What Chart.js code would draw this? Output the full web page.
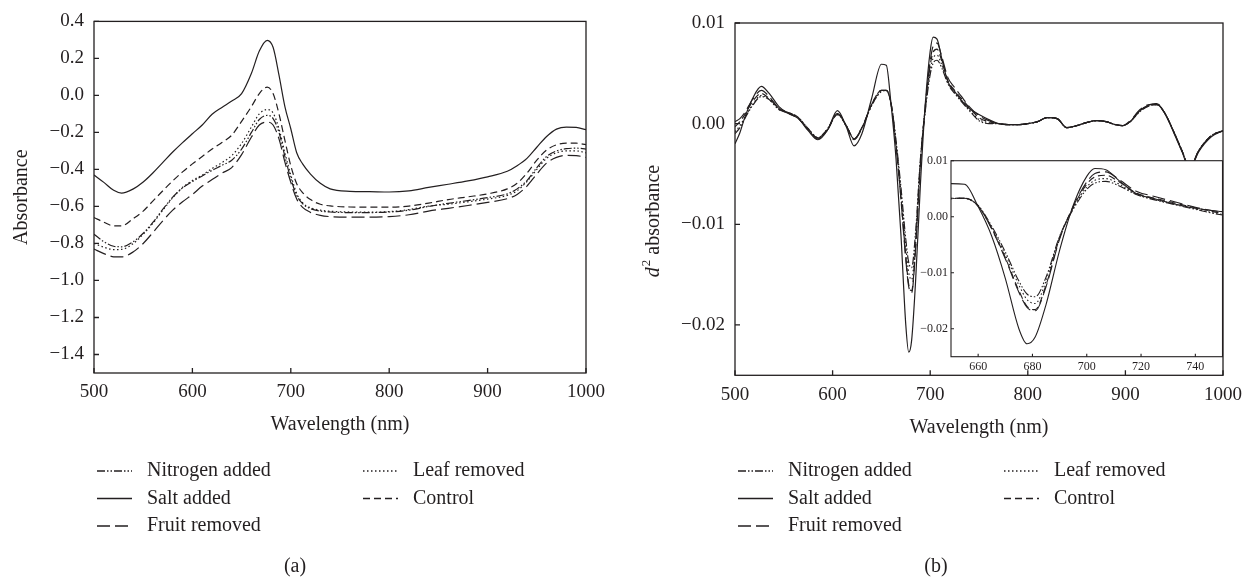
<!DOCTYPE html>
<html>
<head>
<meta charset="utf-8">
<script src="https://cdn.jsdelivr.net/npm/chart.js@4.4.1/dist/chart.umd.min.js"></script>
<style>
  body { margin: 0; background: #fff; }
  #wrap { position: relative; width: 1250px; height: 577px; background: #fff; }
  canvas { position: absolute; }
</style>
</head>
<body>
<div id="wrap">
  <canvas id="panelA" width="620" height="577" style="left:0;top:0"></canvas>
  <canvas id="panelB" width="630" height="577" style="left:620px;top:0"></canvas>
  <canvas id="inset" width="350" height="230" style="left:880px;top:150px"></canvas>
</div>
<script>
// ---- data ----
var seriesNames = ['Nitrogen added', 'Salt added', 'Fruit removed', 'Leaf removed', 'Control'];

// panel (a): absorbance
var wavelengthA = [500,510,520,528,540,550,560,570,580,590,600,610,620,630,640,650,660,668,676,682,
  688,694,700,706,712,720,730,740,760,780,800,820,840,860,880,900,920,930,940,950,960,970,980,990,1000];
var nitrogenA = [-0.75,-0.79,-0.815,-0.818,-0.79,-0.745,-0.685,-0.615,-0.55,-0.5,-0.465,-0.435,-0.405,-0.378,-0.35,
  -0.29,-0.2,-0.13,-0.108,-0.125,-0.2,-0.33,-0.45,-0.54,-0.585,-0.612,-0.625,-0.63,-0.633,-0.633,
  -0.63,-0.62,-0.6,-0.583,-0.568,-0.552,-0.532,-0.505,-0.46,-0.39,-0.33,-0.3,-0.288,-0.285,-0.29];
var saltA = [-0.43,-0.47,-0.513,-0.528,-0.505,-0.468,-0.418,-0.362,-0.306,-0.255,-0.207,-0.16,-0.102,-0.065,-0.03,
  0.01,0.12,0.24,0.298,0.26,0.11,-0.06,-0.18,-0.31,-0.37,-0.425,-0.475,-0.505,-0.518,-0.52,
  -0.522,-0.516,-0.497,-0.48,-0.462,-0.44,-0.41,-0.38,-0.34,-0.28,-0.222,-0.182,-0.171,-0.173,-0.185];
var fruitA = [-0.83,-0.855,-0.872,-0.873,-0.845,-0.8,-0.74,-0.677,-0.62,-0.575,-0.535,-0.49,-0.455,-0.42,-0.39,
  -0.32,-0.225,-0.16,-0.144,-0.16,-0.235,-0.36,-0.47,-0.56,-0.605,-0.632,-0.648,-0.655,-0.658,-0.658,
  -0.655,-0.645,-0.625,-0.61,-0.595,-0.578,-0.558,-0.535,-0.49,-0.425,-0.365,-0.335,-0.324,-0.325,-0.335];
var leafA = [-0.8,-0.82,-0.833,-0.832,-0.8,-0.75,-0.69,-0.62,-0.553,-0.497,-0.46,-0.43,-0.395,-0.363,-0.325,
  -0.26,-0.17,-0.1,-0.076,-0.095,-0.18,-0.31,-0.43,-0.53,-0.58,-0.607,-0.62,-0.626,-0.63,-0.631,
  -0.628,-0.617,-0.598,-0.588,-0.575,-0.56,-0.54,-0.515,-0.465,-0.4,-0.34,-0.31,-0.3,-0.3,-0.31];
var controlA = [-0.66,-0.685,-0.705,-0.705,-0.665,-0.625,-0.57,-0.515,-0.462,-0.413,-0.37,-0.33,-0.29,-0.255,-0.215,
  -0.14,-0.06,0.01,0.045,0.01,-0.1,-0.243,-0.38,-0.477,-0.525,-0.563,-0.588,-0.597,-0.603,-0.604,
  -0.604,-0.598,-0.582,-0.563,-0.548,-0.532,-0.505,-0.475,-0.42,-0.35,-0.295,-0.267,-0.258,-0.258,-0.266];

// panel (b): second derivative
var wavelengthB = [500,505,510,518,527,535,545,555,565,575,585,595,605,614,622,630,640,650,655,660,
  665,670,675,678,681,685,690,695,700,703,707,712,718,725,732,740,750,760,770,780,
  790,800,810,820,830,840,850,860,870,880,890,897,905,915,925,932,940,950,958,966,975,988,1000];
var nitrogenB = [-0.0010,-0.0004,0.0005,0.0018,0.0027,0.0024,0.0014,0.0011,0.0006,-0.0005,
  -0.0014,-0.0005,0.0010,-0.0002,-0.0015,-0.0004,0.0018,0.0032,0.0033,0.0020,
  -0.0017,-0.0063,-0.0115,-0.0138,-0.0143,-0.0108,-0.0035,0.0013,0.0049,0.0060,
  0.0063,0.0055,0.0040,0.0030,0.0022,0.0013,0.0003,0.0000,0.0000,-0.0001,
  -0.0001,0.0000,0.0002,0.0006,0.0005,-0.0004,-0.0002,0.0001,0.0003,0.0002,
  -0.0001,-0.0002,0.0002,0.0012,0.0018,0.0019,0.0011,-0.0009,-0.0027,-0.0044,-0.0027,-0.0012,-0.0007];
var saltB = [-0.0020,-0.0009,0.0006,0.0025,0.0037,0.0030,0.0017,0.0010,0.0005,-0.0007,
  -0.0016,-0.0006,0.0013,-0.0003,-0.0022,-0.0010,0.0025,0.0059,0.0058,0.0018,
  -0.0035,-0.0110,-0.0200,-0.0227,-0.0215,-0.0157,-0.0060,0.0020,0.0072,0.0086,
  0.0084,0.0064,0.0042,0.0032,0.0023,0.0015,0.0009,0.0004,0.0000,-0.0001,
  -0.0001,0.0000,0.0002,0.0006,0.0005,-0.0004,-0.0002,0.0001,0.0003,0.0002,
  -0.0001,-0.0002,0.0002,0.0013,0.0019,0.0020,0.0011,-0.0010,-0.0028,-0.0045,-0.0028,-0.0013,-0.0007];
var fruitB = [0.0002,0.0005,0.0011,0.0024,0.0033,0.0027,0.0015,0.0010,0.0005,-0.0006,
  -0.0015,-0.0006,0.0010,-0.0002,-0.0016,-0.0005,0.0019,0.0033,0.0033,0.0019,
  -0.0022,-0.0075,-0.0135,-0.0162,-0.0168,-0.0125,-0.0040,0.0018,0.0062,0.0077,
  0.0080,0.0066,0.0046,0.0036,0.0027,0.0017,0.0008,0.0003,0.0000,-0.0001,
  -0.0001,0.0000,0.0002,0.0006,0.0005,-0.0004,-0.0002,0.0001,0.0003,0.0002,
  -0.0001,-0.0002,0.0003,0.0014,0.0019,0.0019,0.0011,-0.0009,-0.0027,-0.0044,-0.0027,-0.0012,-0.0007];
var leafB = [-0.0008,-0.0002,0.0006,0.0019,0.0028,0.0024,0.0014,0.0011,0.0006,-0.0005,
  -0.0014,-0.0005,0.0009,-0.0002,-0.0015,-0.0004,0.0018,0.0032,0.0033,0.0019,
  -0.0019,-0.0068,-0.0122,-0.0148,-0.0155,-0.0115,-0.0036,0.0015,0.0053,0.0065,
  0.0068,0.0058,0.0041,0.0031,0.0023,0.0014,0.0004,0.0001,0.0000,-0.0001,
  -0.0001,0.0000,0.0002,0.0006,0.0005,-0.0004,-0.0002,0.0001,0.0003,0.0002,
  -0.0001,-0.0002,0.0002,0.0013,0.0018,0.0020,0.0011,-0.0009,-0.0027,-0.0044,-0.0027,-0.0012,-0.0007];
var controlB = [-0.0003,0.0002,0.0009,0.0022,0.0030,0.0025,0.0015,0.0011,0.0005,-0.0006,
  -0.0014,-0.0005,0.0009,-0.0002,-0.0015,-0.0004,0.0019,0.0033,0.0033,0.0019,
  -0.0021,-0.0073,-0.0132,-0.0160,-0.0166,-0.0122,-0.0038,0.0017,0.0058,0.0071,
  0.0074,0.0062,0.0043,0.0033,0.0025,0.0016,0.0006,0.0002,0.0000,-0.0001,
  -0.0001,0.0000,0.0002,0.0006,0.0005,-0.0004,-0.0002,0.0001,0.0003,0.0002,
  -0.0001,-0.0002,0.0002,0.0013,0.0018,0.0019,0.0011,-0.0009,-0.0027,-0.0044,-0.0027,-0.0012,-0.0007];

// ticks
var xTicks = [500, 600, 700, 800, 900, 1000];
var yTicksA = [0.4, 0.2, 0.0, -0.2, -0.4, -0.6, -0.8, -1.0, -1.2, -1.4];
var yTicksB = [0.01, 0.00, -0.01, -0.02];
var xTicksInset = [660, 680, 700, 720, 740];
var yTicksInset = [0.01, 0.00, -0.01, -0.02];

// ---- styling ----
var ink = '#231f20';
var serif = '"Liberation Serif", "Times New Roman", serif';
var dashes = [[8, 2, 1.5, 2, 1.5, 2], [], [13, 5], [1.5, 2.5], [7, 4]];
Chart.defaults.font.family = serif;
Chart.defaults.color = ink;

function fmt(v, d) {
  var s = Math.abs(v).toFixed(d);
  return (v < -1e-12 ? '\u2212' : '') + s;
}

function makeSets(xs, lists, width) {
  return lists.map(function(vals, i) {
    return {
      label: seriesNames[i],
      data: xs.map(function(x, j) { return {x: x, y: vals[j]}; }),
      borderColor: ink,
      borderWidth: width,
      borderDash: dashes[i],
      pointRadius: 0,
      fill: false,
      cubicInterpolationMode: 'monotone'
    };
  });
}

function scales(o) {
  return {
    x: {
      type: 'linear', min: o.xMin, max: o.xMax,
      grid: {display: false, drawTicks: false}, border: {display: false},
      afterBuildTicks: function(s) { s.ticks = o.xTicks.map(function(v) { return {value: v}; }); },
      afterFit: function(s) { s.height = o.xH; },
      ticks: {font: {size: o.fs}, padding: o.xPad, maxRotation: 0,
        callback: function(v) { return String(v); }},
      title: {display: !!o.xTitle, text: o.xTitle, font: {size: 20}, padding: 0}
    },
    y: {
      type: 'linear', min: o.yMin, max: o.yMax,
      grid: {display: false, drawTicks: false}, border: {display: false},
      afterBuildTicks: function(s) { s.ticks = o.yTicks.map(function(v) { return {value: v}; }); },
      afterFit: function(s) { s.width = o.yW; },
      ticks: {font: {size: o.fs}, padding: o.yPad,
        callback: function(v) { return fmt(v, o.dec); }},
      title: {display: !!o.yTitle, text: o.yTitle, font: {size: 20}, padding: {top: 10}}
    }
  };
}

// box round the plot with short inward tick marks
var frame = {
  id: 'frame',
  beforeDatasetsDraw: function(chart, args, opts) {
    if (!opts.white) return;
    var a = chart.chartArea;
    chart.ctx.save();
    chart.ctx.fillStyle = '#fff';
    chart.ctx.fillRect(a.left, a.top, a.right - a.left, a.bottom - a.top);
    chart.ctx.restore();
  },
  afterDatasetsDraw: function(chart, args, opts) {
    var ctx = chart.ctx, a = chart.chartArea, x = chart.scales.x, y = chart.scales.y;
    var len = opts.len || 5;
    ctx.save();
    ctx.strokeStyle = ink;
    ctx.lineWidth = opts.lw || 1.3;
    ctx.strokeRect(a.left, a.top, a.right - a.left, a.bottom - a.top);
    ctx.beginPath();
    x.ticks.forEach(function(t) {
      var px = x.getPixelForValue(t.value);
      ctx.moveTo(px, a.bottom); ctx.lineTo(px, a.bottom - len);
    });
    y.ticks.forEach(function(t) {
      var py = y.getPixelForValue(t.value);
      ctx.moveTo(a.left, py); ctx.lineTo(a.left + len, py);
    });
    ctx.stroke();
    ctx.restore();
  }
};

// two-column legend under the plot plus the panel tag
var pairLegend = {
  id: 'pairLegend',
  afterDraw: function(chart, args, opts) {
    if (!opts.show) return;
    var ctx = chart.ctx, a = chart.chartArea;
    ctx.save();
    ctx.font = '20px ' + serif;
    ctx.fillStyle = ink;
    ctx.textBaseline = 'middle';
    chart.data.datasets.forEach(function(ds, i) {
      var col = i < 3 ? 0 : 1, row = i < 3 ? i : i - 3;
      var x0 = a.left + 3 + col * 266;
      var yy = 471 + row * 27.5;
      ctx.strokeStyle = ds.borderColor;
      ctx.lineWidth = 1.3;
      ctx.setLineDash(ds.borderDash);
      ctx.beginPath(); ctx.moveTo(x0, yy); ctx.lineTo(x0 + 35, yy); ctx.stroke();
      ctx.setLineDash([]);
      ctx.fillText(ds.label, x0 + 50, yy);
    });
    ctx.textAlign = 'center';
    ctx.fillText(opts.tag, a.left + 201, 567);
    ctx.restore();
  }
};

// y title of panel (b): italic d with superscript 2
var d2Title = {
  id: 'd2Title',
  afterDraw: function(chart) {
    var ctx = chart.ctx;
    ctx.save();
    ctx.translate(34, 221);
    ctx.rotate(-Math.PI / 2);
    ctx.fillStyle = ink;
    ctx.textBaseline = 'middle';
    var f1 = 'italic 20px ' + serif, f2 = '13px ' + serif, f3 = '20px ' + serif;
    ctx.font = f1; var w1 = ctx.measureText('d').width;
    ctx.font = f2; var w2 = ctx.measureText('2').width;
    ctx.font = f3; var w3 = ctx.measureText(' absorbance').width;
    var x0 = -(w1 + w2 + 1 + w3) / 2;
    ctx.font = f1; ctx.fillText('d', x0, 0);
    ctx.font = f2; ctx.fillText('2', x0 + w1 + 1, -7);
    ctx.font = f3; ctx.fillText(' absorbance', x0 + w1 + w2 + 1, 0);
    ctx.restore();
  }
};

var common = {
  responsive: false, animation: false, devicePixelRatio: 1,
  events: []
};

new Chart(document.getElementById('panelA'), {
  type: 'line',
  data: {datasets: makeSets(wavelengthA, [nitrogenA, saltA, fruitA, leafA, controlA], 1.2)},
  plugins: [frame, pairLegend],
  options: Object.assign({}, common, {
    layout: {padding: {left: 0, top: 21, right: 34, bottom: 140}},
    scales: scales({xMin: 500, xMax: 1000, xTicks: xTicks, xH: 64, xPad: 8,
      yMin: -1.5, yMax: 0.4, yTicks: yTicksA, yW: 94, yPad: 10, dec: 1, fs: 19,
      xTitle: 'Wavelength (nm)', yTitle: 'Absorbance'}),
    plugins: {legend: {display: false}, tooltip: {enabled: false},
      frame: {lw: 1.3, len: 5}, pairLegend: {show: true, tag: '(a)'}}
  })
});

new Chart(document.getElementById('panelB'), {
  type: 'line',
  data: {datasets: makeSets(wavelengthB, [nitrogenB, saltB, fruitB, leafB, controlB], 1.2)},
  plugins: [frame, pairLegend, d2Title],
  options: Object.assign({}, common, {
    layout: {padding: {left: 0, top: 23, right: 23.5, bottom: 137.7}},
    scales: scales({xMin: 500, xMax: 1000, xTicks: xTicks, xH: 64, xPad: 8,
      yMin: -0.025, yMax: 0.01, yTicks: yTicksB, yW: 115, yPad: 10, dec: 2, fs: 19,
      xTitle: 'Wavelength (nm)', yTitle: ''}),
    plugins: {legend: {display: false}, tooltip: {enabled: false},
      frame: {lw: 1.3, len: 5}, pairLegend: {show: true, tag: '(b)'}}
  })
});

new Chart(document.getElementById('inset'), {
  type: 'line',
  data: {datasets: makeSets(wavelengthB, [nitrogenB, saltB, fruitB, leafB, controlB], 1.1)},
  plugins: [frame],
  options: Object.assign({}, common, {
    layout: {padding: {left: 0, top: 10.7, right: 7.5, bottom: 0}},
    scales: scales({xMin: 650, xMax: 750, xTicks: xTicksInset, xH: 23.3, xPad: 3,
      yMin: -0.025, yMax: 0.01, yTicks: yTicksInset, yW: 71, yPad: 3, dec: 2, fs: 12,
      xTitle: '', yTitle: ''}),
    plugins: {legend: {display: false}, tooltip: {enabled: false},
      frame: {lw: 1.1, len: 3, white: true}}
  })
});
</script>
</body>
</html>
